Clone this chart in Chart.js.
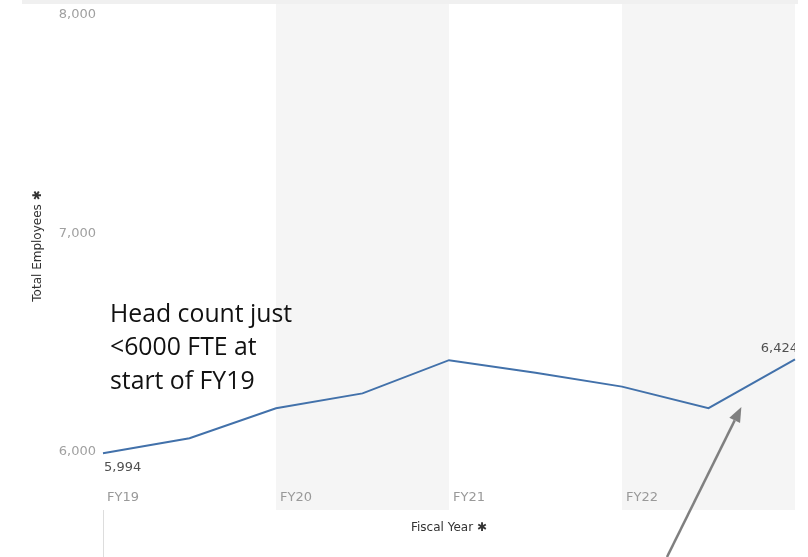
<!DOCTYPE html>
<html><head><meta charset="utf-8">
<script src="https://cdn.jsdelivr.net/npm/chart.js@4.4.0/dist/chart.umd.min.js"></script>
<style>html,body{margin:0;padding:0;background:#fff;overflow:hidden}#wrap{width:808px;height:557px;position:relative}</style>
</head><body><div id="wrap"><canvas id="c" width="808" height="557"></canvas></div>
<script>
// ---- data ----
const periods = ['FY19 H1','FY19 H2','FY20 H1','FY20 H2','FY21 H1','FY21 H2','FY22 H1','FY22 H2','FY23 H1'];
const totalEmployees = [5994, 6063, 6200, 6268, 6420, 6362, 6299, 6200, 6424];
const xTickLabels = ['FY19','','FY20','','FY21','','FY22','',''];
const yTickValues = [6000, 7000, 8000];
const shadedBands = [[2, 4], [6, 8]];          // FY20, FY22 (period index ranges)
const labelledPoints = [0, 8];
const annotationLines = ['Head count just', '<6000 FTE at', 'start of FY19'];
const annotationAnchor = { index: 0, value: 6596 };
const arrowTip = { index: 7.38, value: 6206 };
const arrowTail = { index: 6.52, value: 5519 };

const fmt = v => Number(v).toLocaleString('en-US');

const backgroundPlugin = {
  id: 'bg',
  beforeDraw(chart) {
    const { ctx, chartArea: a, scales: { x } } = chart;
    ctx.save();
    ctx.fillStyle = '#ffffff';
    ctx.fillRect(0, 0, chart.width, chart.height);
    ctx.fillStyle = '#f0f0f0';
    ctx.fillRect(a.left - 81, 0, a.right - a.left + 84, a.top);
    ctx.fillStyle = '#f5f5f5';
    shadedBands.forEach(([s, e]) => {
      const x0 = x.getPixelForValue(s), x1 = x.getPixelForValue(e);
      ctx.fillRect(x0, a.top, x1 - x0, a.bottom - a.top + 22);
    });
    ctx.strokeStyle = '#dddddd';
    ctx.lineWidth = 1;
    const x0 = Math.round(x.getPixelForValue(0)) + 0.5;
    ctx.beginPath();
    ctx.moveTo(x0, a.bottom + 22);
    ctx.lineTo(x0, chart.height);
    ctx.stroke();
    ctx.restore();
  }
};

const overlayPlugin = {
  id: 'overlay',
  afterDatasetsDraw(chart) {
    const { ctx, chartArea: a, scales: { x, y } } = chart;
    ctx.save();
    // data labels
    ctx.font = '13px "DejaVu Sans"';
    ctx.fillStyle = '#505050';
    ctx.textBaseline = 'middle';
    labelledPoints.forEach(i => {
      const px = x.getPixelForValue(i), py = y.getPixelForValue(totalEmployees[i]);
      if (i === 0) {
        ctx.textAlign = 'left';
        ctx.fillText(fmt(totalEmployees[i]), px + 1, py + 14);
      } else {
        ctx.save();
        ctx.beginPath(); ctx.rect(0, 0, a.right, chart.height); ctx.clip();
        ctx.textAlign = 'right';
        ctx.fillText(fmt(totalEmployees[i]), px + 3, py - 11);
        ctx.restore();
      }
    });
    // annotation text
    ctx.font = '24.8px "Open Sans"';
    ctx.fillStyle = '#111111';
    ctx.textAlign = 'left';
    ctx.textBaseline = 'alphabetic';
    const ax = x.getPixelForValue(annotationAnchor.index) + 7;
    const ay = y.getPixelForValue(annotationAnchor.value);
    annotationLines.forEach((t, k) => ctx.fillText(t, ax, ay + k * 33.6));
    // arrow
    const tx = x.getPixelForValue(arrowTip.index), ty = y.getPixelForValue(arrowTip.value);
    const sx = x.getPixelForValue(arrowTail.index), sy = y.getPixelForValue(arrowTail.value);
    const ang = Math.atan2(ty - sy, tx - sx);
    const hl = 15, hw = 6;
    const bx = tx - hl * Math.cos(ang), by = ty - hl * Math.sin(ang);
    ctx.strokeStyle = '#808080';
    ctx.fillStyle = '#808080';
    ctx.lineWidth = 2.5;
    ctx.beginPath(); ctx.moveTo(sx, sy); ctx.lineTo(bx, by); ctx.stroke();
    ctx.beginPath();
    ctx.moveTo(tx, ty);
    ctx.lineTo(bx + hw * Math.sin(ang), by - hw * Math.cos(ang));
    ctx.lineTo(bx - hw * Math.sin(ang), by + hw * Math.cos(ang));
    ctx.closePath(); ctx.fill();
    ctx.restore();
  }
};

new Chart(document.getElementById('c'), {
  type: 'line',
  data: {
    labels: periods,
    datasets: [{
      data: totalEmployees,
      borderColor: '#4271aa',
      borderWidth: 2,
      pointRadius: 0,
      tension: 0,
      fill: false
    }]
  },
  options: {
    responsive: false,
    animation: false,
    devicePixelRatio: 1,
    layout: { padding: { top: 4, right: 13, bottom: 0, left: 0 } },
    plugins: { legend: { display: false }, tooltip: { enabled: false } },
    scales: {
      x: {
        offset: false,
        grid: { display: false, drawTicks: false },
        border: { display: false },
        ticks: {
          autoSkip: false, maxRotation: 0, minRotation: 0,
          align: 'start', labelOffset: 4, padding: 2,
          color: '#999999', font: { family: 'DejaVu Sans', size: 13 },
          callback: (v, i) => xTickLabels[i]
        },
        title: {
          display: true, text: 'Fiscal Year ✱', color: '#333333',
          font: { family: 'DejaVu Sans', size: 12 }, padding: { top: 0, bottom: 22 }
        },
        afterFit(s) { s.height = 69; s.paddingLeft = 0; s.paddingRight = 0; }
      },
      y: {
        min: 5835, max: 8050,
        grid: { display: false, drawTicks: false },
        border: { display: false },
        afterBuildTicks(s) { s.ticks = yTickValues.map(v => ({ value: v })); },
        ticks: {
          padding: 7, color: '#a0a0a0', font: { family: 'DejaVu Sans', size: 13 },
          callback: v => fmt(v)
        },
        title: {
          display: true, text: 'Total Employees ✱', color: '#333333',
          font: { family: 'DejaVu Sans', size: 12 }, padding: { top: 31, bottom: 0 }
        },
        afterFit(s) { s.width = 103; s.paddingTop = 0; s.paddingBottom = 0; }
      }
    }
  },
  plugins: [backgroundPlugin, overlayPlugin]
});
</script></body></html>
